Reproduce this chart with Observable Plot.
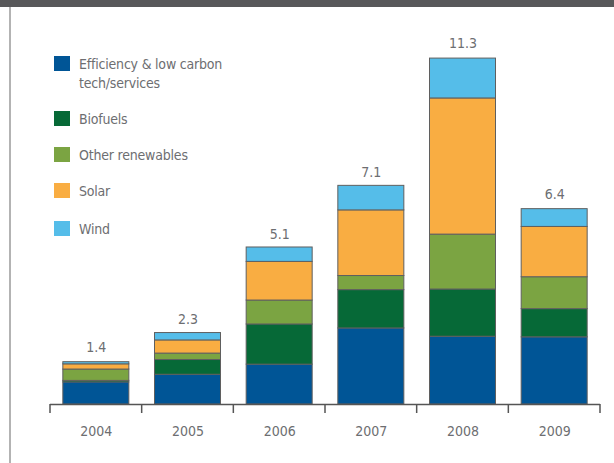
<!DOCTYPE html>
<html>
<head>
<meta charset="utf-8">
<script src="https://cdn.jsdelivr.net/npm/d3@7"></script>
<script src="https://cdn.jsdelivr.net/npm/@observablehq/plot@0.6"></script>
<style>
  html, body { margin: 0; padding: 0; background: #fff; }
  #wrap { position: relative; width: 614px; height: 463px; overflow: hidden;
          font-family: "Liberation Sans Narrow", "DejaVu Sans Condensed", "Roboto", sans-serif; }
  #band { position: absolute; left: 0; top: 0; width: 614px; height: 7px; background: #58585a; }
  #vline { position: absolute; left: 9px; top: 7px; width: 1.5px; height: 456px; background: #b3b3b3; }
  #chart { position: absolute; left: 0; top: 0; }
  #legend { position: absolute; left: 54px; top: 55px; color: #6d6e71; font-size: 14px; line-height: 19px; letter-spacing: -0.2px; }
  .item { display: flex; align-items: flex-start; margin-bottom: 17px; }
  .item.i3 { margin-bottom: 19px; }
  .item.i4 { margin-bottom: 20px; }
  .sw { width: 16px; height: 15px; margin-right: 9px; margin-top: 1px; flex: none; }
</style>
</head>
<body>
<div id="wrap">
  <div id="chart"></div>
  <div id="band"></div>
  <div id="vline"></div>
  <div id="legend"></div>
</div>
<script>
const years = ["2004", "2005", "2006", "2007", "2008", "2009"];
const series = ["Efficiency & low carbon tech/services", "Biofuels", "Other renewables", "Solar", "Wind"];
const legendLabels = ["Efficiency & low carbon<br>tech/services", "Biofuels", "Other renewables", "Solar", "Wind"];
const colors = ["#005596", "#066937", "#7ba442", "#f9ad42", "#55bde9"];
const efficiency = [0.72, 0.97, 1.30, 2.48, 2.21, 2.19];
const biofuels   = [0.05, 0.48, 1.31, 1.25, 1.54, 0.92];
const otherRen   = [0.37, 0.21, 0.78, 0.46, 1.79, 1.04];
const solar      = [0.17, 0.43, 1.26, 2.14, 4.44, 1.64];
const wind       = [0.07, 0.24, 0.47, 0.80, 1.30, 0.58];
const totals     = [1.4, 2.3, 5.1, 7.1, 11.3, 6.4];
const totalLabels = ["1.4", "2.3", "5.1", "7.1", "11.3", "6.4"];

const valuesBySeries = [efficiency, biofuels, otherRen, solar, wind];
const data = [];
series.forEach((s, i) => years.forEach((y, j) => data.push({year: y, series: s, value: valuesBySeries[i][j]})));
const totalData = years.map((y, j) => ({year: y, total: totals[j], label: totalLabels[j]}));

const font = '"Liberation Sans Narrow", "DejaVu Sans Condensed", "Roboto", sans-serif';

const plot = Plot.plot({
  width: 614,
  height: 463,
  marginLeft: 50,
  marginRight: 14,
  marginTop: 36,
  marginBottom: 59,
  style: {fontFamily: font, fontSize: "14px", color: "#6d6e71", background: "transparent"},
  x: {type: "band", domain: years, paddingInner: 0.28, paddingOuter: 0.14, round: false, label: null},
  y: {domain: [0, 12], axis: null},
  color: {domain: series, range: colors},
  marks: [
    Plot.barY(data, {x: "year", y: "value", fill: "series", order: series, stroke: "#5f5f5f", strokeWidth: 1}),
    Plot.text(totalData, {x: "year", y: "total", text: "label", dy: -14, fill: "#6d6e71", fontSize: 14}),
    Plot.ruleY([0], {stroke: "#555", strokeWidth: 1.5}),
    Plot.axisX({tickSize: 0, tickPadding: 22, fontSize: 14, fill: "#6d6e71"})
  ]
});
document.getElementById("chart").appendChild(plot);

// ticks at band boundaries using the plot's x scale
const xs = plot.scale("x");
const step = xs.step;
const bounds = years.map(y => xs.apply(y) - (step - xs.bandwidth) / 2);
bounds.push(xs.apply(years[years.length - 1]) + xs.bandwidth + (step - xs.bandwidth) / 2);
const y0 = plot.scale("y").apply(0);
d3.select(plot).append("g")
  .selectAll("line").data(bounds).join("line")
  .attr("x1", d => d).attr("x2", d => d)
  .attr("y1", y0).attr("y2", y0 + 9)
  .attr("stroke", "#555").attr("stroke-width", 1.5);

const leg = document.getElementById("legend");
legendLabels.forEach((l, i) => {
  const it = document.createElement("div");
  it.className = "item i" + i;
  it.innerHTML = `<div class="sw" style="background:${colors[i]}"></div><div>${l}</div>`;
  leg.appendChild(it);
});
</script>
</body>
</html>
